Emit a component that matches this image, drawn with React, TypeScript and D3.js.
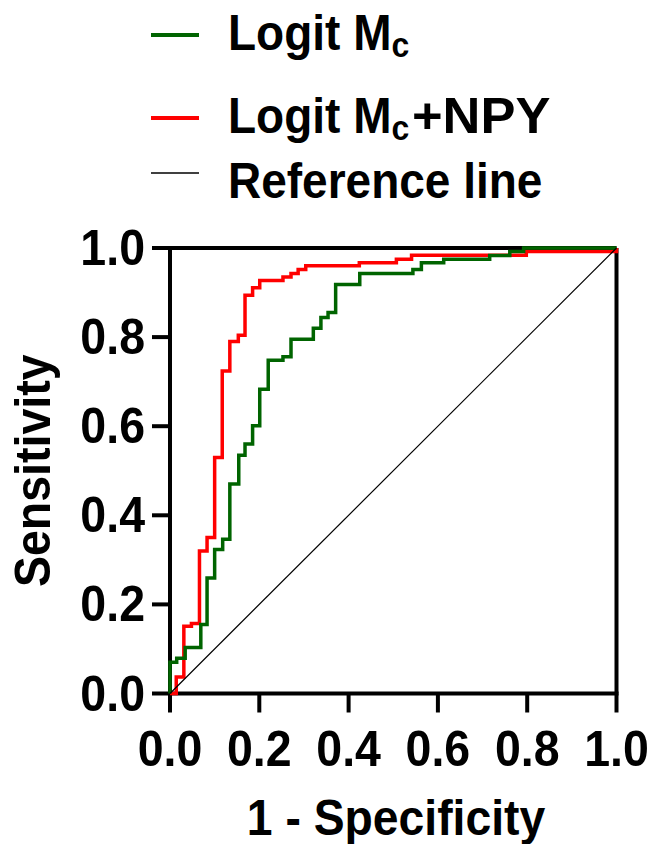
import React from 'react';
import * as d3 from 'd3';

// ROC step corners: [1 - specificity, sensitivity]
const logitMc: [number, number][] = [
  [0, 0], [0.015, 0.07], [0.034, 0.079], [0.069, 0.103], [0.083, 0.155], [0.1, 0.259],
  [0.118, 0.323], [0.134, 0.346], [0.154, 0.47], [0.168, 0.535], [0.185, 0.56],
  [0.201, 0.601], [0.22, 0.683], [0.253, 0.748], [0.271, 0.756], [0.321, 0.795],
  [0.338, 0.82], [0.354, 0.844], [0.371, 0.855], [0.425, 0.918], [0.544, 0.943],
  [0.563, 0.952], [0.613, 0.967], [0.716, 0.975], [0.761, 0.983], [0.792, 0.992], [1, 1],
];
const logitMcNpy: [number, number][] = [
  [0, 0], [0.014, 0], [0.031, 0.037], [0.048, 0.151], [0.066, 0.157], [0.083, 0.32],
  [0.1, 0.35], [0.117, 0.53], [0.134, 0.724], [0.153, 0.79], [0.168, 0.804],
  [0.185, 0.894], [0.201, 0.911], [0.253, 0.927], [0.271, 0.935], [0.287, 0.943],
  [0.304, 0.952], [0.424, 0.96], [0.507, 0.967], [0.541, 0.975], [0.798, 0.984],
  [1, 0.992], [1, 1],
];
const referenceLine: [number, number][] = [[0, 0], [1, 1]];
const ticks = [0, 0.2, 0.4, 0.6, 0.8, 1.0];

const legendItems = [
  {label: 'Logit M', sub: 'c', rest: '', color: '#006400', width: 4},
  {label: 'Logit M', sub: 'c', rest: '+NPY', color: '#ff0000', width: 4},
  {label: 'Reference line', sub: '', rest: '', color: '#000000', width: 1.5},
];

const font = '"Liberation Sans", Arial, sans-serif';

// text slightly stretched vertically, like the original export
function T({x, y, sx = 1, sy = 1.07, rotate = 0, children, ...rest}: any) {
  return (
    <text transform={`translate(${x},${y}) rotate(${rotate}) scale(${sx},${sy})`} {...rest}>
      {children}
    </text>
  );
}

export default function App() {
  const x = d3.scaleLinear().domain([0, 1]).range([170, 616.5]);
  const y = d3.scaleLinear().domain([0, 1]).range([693.5, 248]);

  const step = d3.line<[number, number]>()
    .x(d => x(d[0]))
    .y(d => y(d[1]))
    .curve(d3.curveStepBefore);
  const straight = d3.line<[number, number]>().x(d => x(d[0])).y(d => y(d[1]));

  const fmt = d3.format('.1f');

  return (
    <svg width={650} height={844} style={{position: 'absolute', left: 0, top: 0}} fontFamily={font} fontWeight="bold">
      {/* legend */}
      {legendItems.map((item, i) => {
        const ly = [35, 118, 173][i];
        const by = [50, 133, 198][i];
        return (
          <g key={i}>
            <line x1={151} x2={199} y1={ly} y2={ly} stroke={item.color} strokeWidth={item.width} />
            <T x={228} y={by} fontSize={46}>
              {item.label}
              {item.sub && <tspan fontSize={32} dy={7}>{item.sub}</tspan>}
            </T>
            {item.rest && (
              <T x={412} y={by} sx={1.14} fontSize={46}>{item.rest}</T>
            )}
          </g>
        );
      })}

      {/* frame and axes */}
      <g stroke="#000" strokeWidth={4} fill="none">
        <line x1={x(0)} x2={x(1)} y1={y(1)} y2={y(1)} />
        <line x1={x(1)} x2={x(1)} y1={y(0)} y2={y(1)} />
        <line x1={x(0)} x2={x(0)} y1={y(0) + 2} y2={y(1) - 2} />
        <line x1={x(0) - 2} x2={x(1) + 2} y1={y(0)} y2={y(0)} />
        {ticks.map(t => (
          <line key={'yt' + t} x1={x(0) - 18} x2={x(0)} y1={y(t)} y2={y(t)} />
        ))}
        {ticks.map(t => (
          <line key={'xt' + t} x1={x(t)} x2={x(t)} y1={y(0)} y2={y(0) + 19} />
        ))}
      </g>
      {ticks.map(t => (
        <T key={'yl' + t} x={145} y={y(t) + 17} sy={1.09} textAnchor="end" fontSize={46.5}>{fmt(t)}</T>
      ))}
      {ticks.map(t => (
        <T key={'xl' + t} x={x(t)} y={766} sy={1.09} textAnchor="middle" fontSize={46.5}>{fmt(t)}</T>
      ))}

      <T x={50} y={y(0.5)} rotate={-90} textAnchor="middle" fontSize={46.5}>Sensitivity</T>
      <T x={396} y={835} textAnchor="middle" fontSize={46.3}>1 - Specificity</T>

      {/* curves */}
      <path d={step(logitMcNpy) || ''} fill="none" stroke="#ff0000" strokeWidth={3.5} />
      <path d={step(logitMc) || ''} fill="none" stroke="#006400" strokeWidth={3.5} />
      <path d={straight(referenceLine) || ''} fill="none" stroke="#000" strokeWidth={1.2} />
    </svg>
  );
}
